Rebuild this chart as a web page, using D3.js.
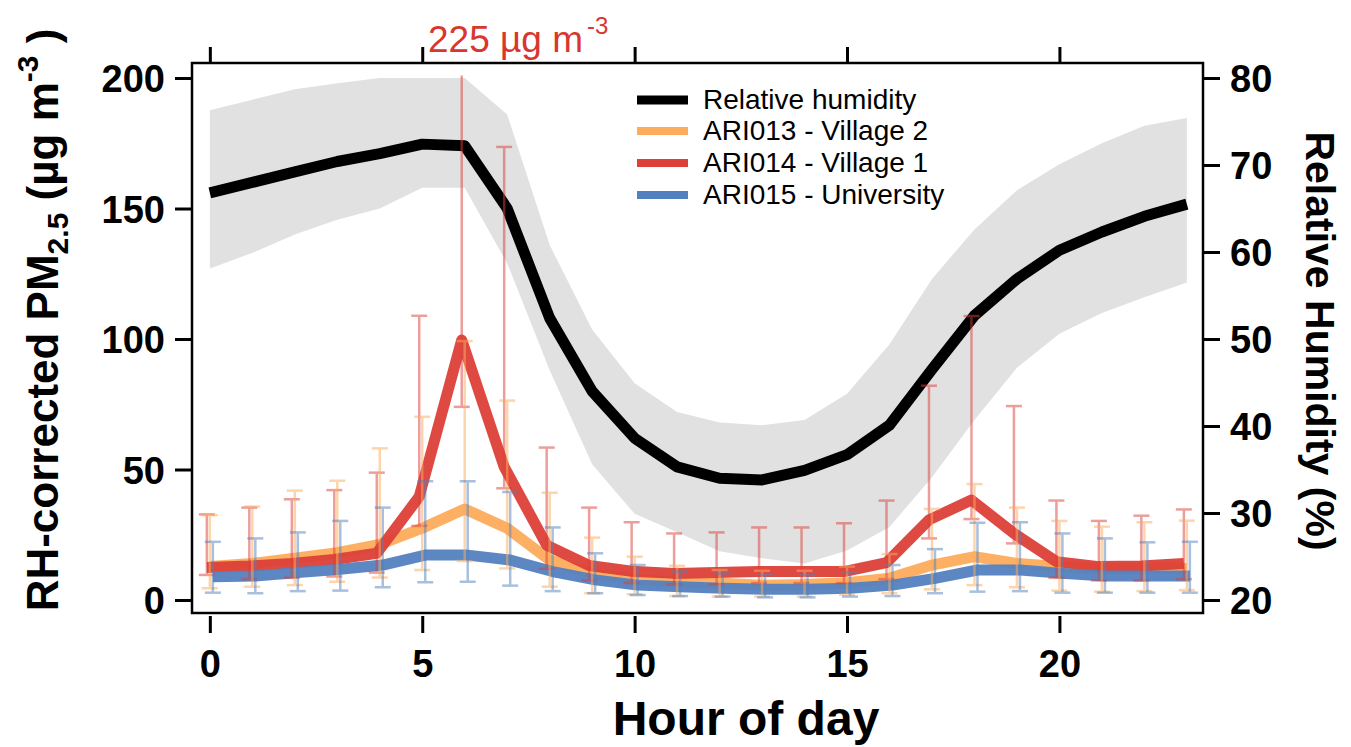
<!DOCTYPE html>
<html><head><meta charset="utf-8">
<script src="https://cdn.jsdelivr.net/npm/d3@7"></script>
<style>
body{margin:0;background:#fff}
svg{display:block}
text{font-family:"Liberation Sans",Arial,Helvetica,sans-serif}
</style>
</head><body>
<svg id="chart" width="1351" height="747"></svg>
<script>
// ---------------- data ----------------
const hours = [0,1,2,3,4,5,6,7,8,9,10,11,12,13,14,15,16,17,18,19,20,21,22,23];

const rhMean  = [66.8,68.0,69.2,70.4,71.3,72.4,72.2,65.0,52.4,44.0,38.6,35.3,34.0,33.8,34.9,36.7,40.1,46.5,52.7,56.9,60.2,62.3,64.1,65.5];
const rhUpper = [76.3,77.5,78.7,79.4,80.0,80.0,80.0,75.8,60.8,51.1,44.9,41.6,40.4,40.1,40.7,43.7,49.4,56.9,62.6,67.1,70.1,72.5,74.5,75.4];
const rhLower = [58.1,59.9,62.0,63.7,65.0,67.4,67.4,58.7,46.4,35.6,29.9,27.8,25.6,24.8,24.2,25.7,28.4,34.1,40.7,46.7,50.6,53.0,54.8,56.5];

// ARI013 - Village 2
const v2Mean = [12.8,14.0,16.0,18.1,21.3,27.5,34.9,27.5,15.3,10.2,8.0,7.0,6.4,5.7,5.9,6.6,8.3,13.4,16.6,14.0,12.8,12.1,12.1,12.1];
const v2Hi   = [32.5,35.8,41.9,45.7,58.1,70.2,99.2,76.4,41.1,23.9,16.6,13.1,11.5,11.2,11.2,12.8,17.6,34.9,44.4,35.4,30.3,28.1,29.8,30.4];
const v2Lo   = [4.5,5.1,5.7,7.0,8.6,11.5,14.9,12.1,5.1,2.6,2.2,1.5,1.3,1.3,1.3,2.0,2.6,4.1,5.7,4.9,3.6,3.2,3.4,3.8];

// ARI014 - Village 1
const v1Mean = [12.5,13.0,14.0,15.5,17.9,39.6,99.6,51.0,21.0,13.2,11.0,10.2,10.5,10.9,10.9,10.9,14.3,30.7,38.3,25.5,14.7,12.8,13.0,14.0];
const v1Hi   = [32.8,35.4,38.6,42.1,48.8,108.9,225,173.6,58.4,35.4,29.8,25.5,25.9,27.8,27.8,29.4,38.1,82.1,108.8,74.3,38.1,30.3,32.3,34.7];
const v1Lo   = [9.6,8.0,8.5,9.0,10.5,28.4,74.0,42.8,12.0,7.5,6.5,6.0,6.0,6.5,6.5,6.5,8.0,23.6,31.0,21.7,8.5,7.5,7.5,8.0];

// ARI015 - University
const uMean = [8.9,9.2,10.5,11.8,13.4,17.2,17.2,15.3,10.9,7.7,5.7,5.1,4.5,4.1,4.1,4.5,5.7,8.3,11.5,11.5,10.2,9.2,9.2,9.2];
const uHi   = [22.3,23.6,25.9,30.3,35.4,45.5,45.5,41.4,27.8,17.9,13.4,10.9,10.2,9.6,9.6,10.6,13.4,19.5,29.6,29.8,25.5,23.6,22.1,22.3];
const uLo   = [2.8,2.6,3.4,3.6,4.9,6.8,7.0,5.5,3.4,2.6,1.9,1.5,1.3,1.0,1.0,1.3,1.5,2.6,3.2,3.4,2.8,2.8,2.8,2.8];

const legendLabels = ["Relative humidity","ARI013 - Village 2","ARI014 - Village 1","ARI015 - University"];
const xTicks  = [0,5,10,15,20];
const yTicksL = [0,50,100,150,200];
const yTicksR = [20,30,40,50,60,70,80];
const peakLabel = "225 µg m";

// ---------------- layout ----------------
const svg = d3.select("#chart");
const L = 192, R = 1203, T = 63, B = 613;
const x  = d3.scaleLinear().domain([-0.42, 23.38]).range([L, R]);
const yL = d3.scaleLinear().domain([-4.98, 205.75]).range([B, T]);
const yR = d3.scaleLinear().domain([18.506, 81.725]).range([B, T]);
const clipTop = 201;

const series = [
  {mean: v1Mean, hi: v1Hi, lo: v1Lo, color: "#dc4038", dx: -3},
  {mean: v2Mean, hi: v2Hi, lo: v2Lo, color: "#fdac5c", dx: 0},
  {mean: uMean,  hi: uHi,  lo: uLo,  color: "#5381bf", dx: 3}
];

// grey band
const band = d3.area()
  .x((d,i) => x(hours[i]))
  .y0((d,i) => yR(rhLower[i]))
  .y1((d,i) => yR(rhUpper[i]));
svg.append("path").datum(hours).attr("d", band).attr("fill", "#e1e1e1");

// RH line
const rhLine = d3.line().x((d,i) => x(hours[i])).y(d => yR(d));
svg.append("path").datum(rhMean).attr("d", rhLine)
  .attr("fill","none").attr("stroke","#000").attr("stroke-width",11).attr("stroke-linejoin","round");

// PM lines: orange first, then red, then blue on top
const drawOrder = [series[1], series[0], series[2]];
drawOrder.forEach(s => {
  const ln = d3.line().x((d,i) => x(hours[i]) + s.dx).y(d => yL(d));
  svg.append("path").datum(s.mean).attr("d", ln)
    .attr("fill","none").attr("stroke", s.color).attr("stroke-width", 11)
    .attr("stroke-linejoin","round").attr("opacity",0.95);
});

// error bars
const cap = 8;
series.forEach(s => {
  const g = svg.append("g").attr("stroke", s.color).attr("stroke-width", 2.5).attr("opacity", 0.5).attr("fill","none");
  hours.forEach((h,i) => {
    const cx = x(h) + s.dx;
    const hiV = Math.min(s.hi[i], clipTop);
    g.append("line").attr("x1",cx).attr("x2",cx).attr("y1",yL(s.lo[i])).attr("y2",yL(hiV));
    if (s.hi[i] <= clipTop)
      g.append("line").attr("x1",cx-cap).attr("x2",cx+cap).attr("y1",yL(s.hi[i])).attr("y2",yL(s.hi[i]));
    g.append("line").attr("x1",cx-cap).attr("x2",cx+cap).attr("y1",yL(s.lo[i])).attr("y2",yL(s.lo[i]));
  });
});

// frame
svg.append("rect").attr("x",L).attr("y",T).attr("width",R-L).attr("height",B-T)
  .attr("fill","none").attr("stroke","#000").attr("stroke-width",2.5);

function styleAxis(g, size){
  g.select(".domain").remove();
  g.selectAll(".tick line").attr("stroke","#000").attr("stroke-width",3);
  g.selectAll(".tick text").attr("fill","#000").style("font-size",size+"px").style("font-weight","bold")
    .style("font-family",'"Liberation Sans",Arial,sans-serif');
}

// left axis
const gL = svg.append("g").attr("transform",`translate(${L},0)`)
  .call(d3.axisLeft(yL).tickValues(yTicksL).tickSize(17).tickPadding(10));
styleAxis(gL, 38);
gL.selectAll(".tick text").attr("dy","0.36em");

// right axis
const gR = svg.append("g").attr("transform",`translate(${R},0)`)
  .call(d3.axisRight(yR).tickValues(yTicksR).tickSize(17).tickPadding(10));
styleAxis(gR, 38);
gR.selectAll(".tick text").attr("dy","0.36em");

// bottom axis (detached)
const gB = svg.append("g").attr("transform",`translate(0,616)`)
  .call(d3.axisBottom(x).tickValues(xTicks).tickSize(17).tickPadding(17));
styleAxis(gB, 38);

// top axis (ticks only)
const gT = svg.append("g").attr("transform",`translate(0,${T})`)
  .call(d3.axisTop(x).tickValues(xTicks).tickSize(16).tickFormat(""));
styleAxis(gT, 10);

// peak label
const pk = svg.append("text").attr("x",428).attr("y",52).attr("fill","#d9362e")
  .style("font-size","37px");
pk.append("tspan").text(peakLabel);
pk.append("tspan").attr("dx",4).attr("dy",-18).style("font-size","24px").text("-3");

// axis titles
svg.append("text").attr("x",746).attr("y",735).attr("text-anchor","middle")
  .style("font-size","48px").style("font-weight","bold").text("Hour of day");

svg.append("text").attr("transform","translate(1306,341) rotate(90)").attr("text-anchor","middle")
  .style("font-size","41px").style("font-weight","bold").text("Relative Humidity (%)");

const lt = svg.append("text").attr("transform","translate(58,320) rotate(-90)").attr("text-anchor","middle")
  .style("font-size","44px").style("font-weight","bold");
lt.append("tspan").text("RH-corrected PM");
lt.append("tspan").attr("dy",10).style("font-size","30px").text("2.5");
lt.append("tspan").attr("dy",-10).text(" (µg m");
lt.append("tspan").attr("dy",-20).style("font-size","30px").text("-3");
lt.append("tspan").attr("dy",20).text(" )");

// legend
const legColors = ["#000","#fdac5c","#dc4038","#5381bf"];
const legWidths = [9,8,8,8];
const legY = [100,131,163,195];
legendLabels.forEach((lab,i) => {
  svg.append("line").attr("x1",637).attr("x2",688).attr("y1",legY[i]).attr("y2",legY[i])
    .attr("stroke",legColors[i]).attr("stroke-width",legWidths[i]);
  svg.append("text").attr("x",703).attr("y",legY[i]+9).style("font-size","28px").attr("fill","#000").text(lab);
});
</script>
</body></html>
